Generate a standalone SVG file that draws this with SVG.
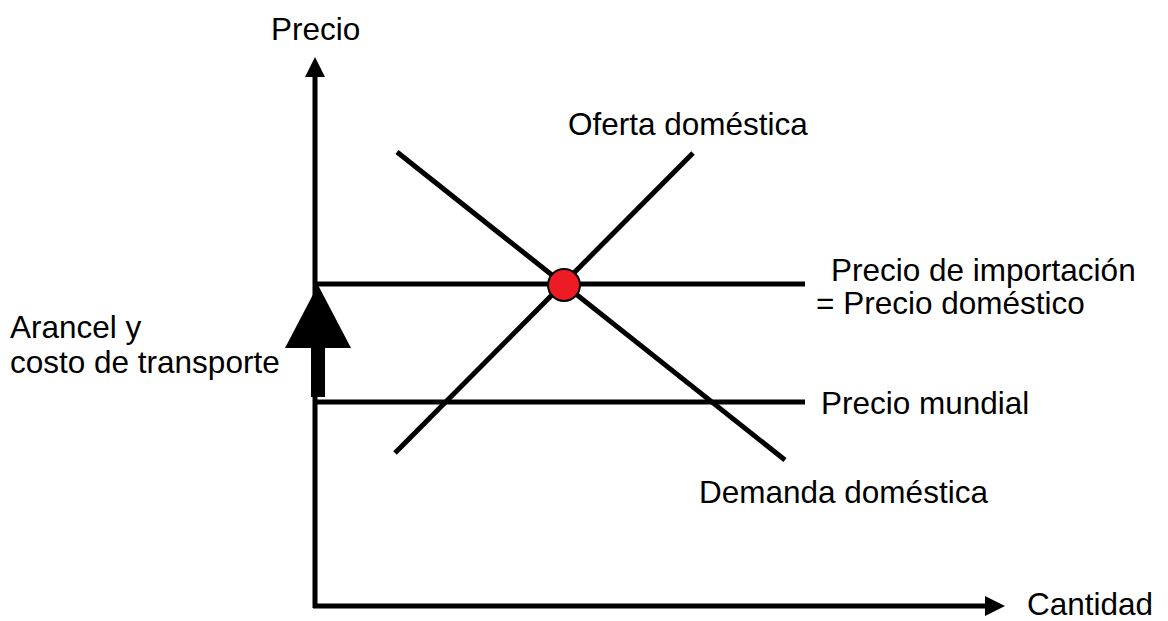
<svg xmlns="http://www.w3.org/2000/svg" width="1168" height="621" viewBox="0 0 1168 621">
<style>
.ln{stroke:#000;stroke-width:5;fill:none}
.t{font-family:"Liberation Sans",Arial,sans-serif;font-size:31.5px;fill:#000}
</style>
<rect width="1168" height="621" fill="#fff"/>
<g id="connectors">
<line class="ln" x1="315" y1="72" x2="315" y2="608"/>
<polygon points="315,57 305,77 325,77" fill="#000"/>
<line class="ln" x1="313" y1="606" x2="990" y2="606"/>
<polygon points="1005,606 985,596 985,616" fill="#000"/>
<line class="ln" x1="315" y1="284" x2="805" y2="284"/>
<line class="ln" x1="315" y1="402" x2="805" y2="402"/>
<line class="ln" x1="397" y1="152" x2="785" y2="460"/>
<line class="ln" x1="395" y1="453" x2="693" y2="153"/>
<polygon points="318,285 285,348 351,348" fill="#000"/>
<rect x="311" y="346" width="14" height="51" fill="#000"/>
</g>
<g id="eq"><circle cx="564" cy="285" r="16" fill="#ED1C24" stroke="#000" stroke-width="2"/></g>
<g id="labels">
<text class="t" x="271" y="40">Precio</text>
<text class="t" x="568" y="135">Oferta doméstica</text>
<text class="t" x="831" y="281">Precio de importación</text>
<text class="t" x="816" y="314">= Precio doméstico</text>
<text class="t" x="10" y="338">Arancel y</text>
<text class="t" x="10" y="373">costo de transporte</text>
<text class="t" x="821" y="414">Precio mundial</text>
<text class="t" x="699" y="503">Demanda doméstica</text>
<text class="t" x="1027" y="615">Cantidad</text>
</g>
</svg>
